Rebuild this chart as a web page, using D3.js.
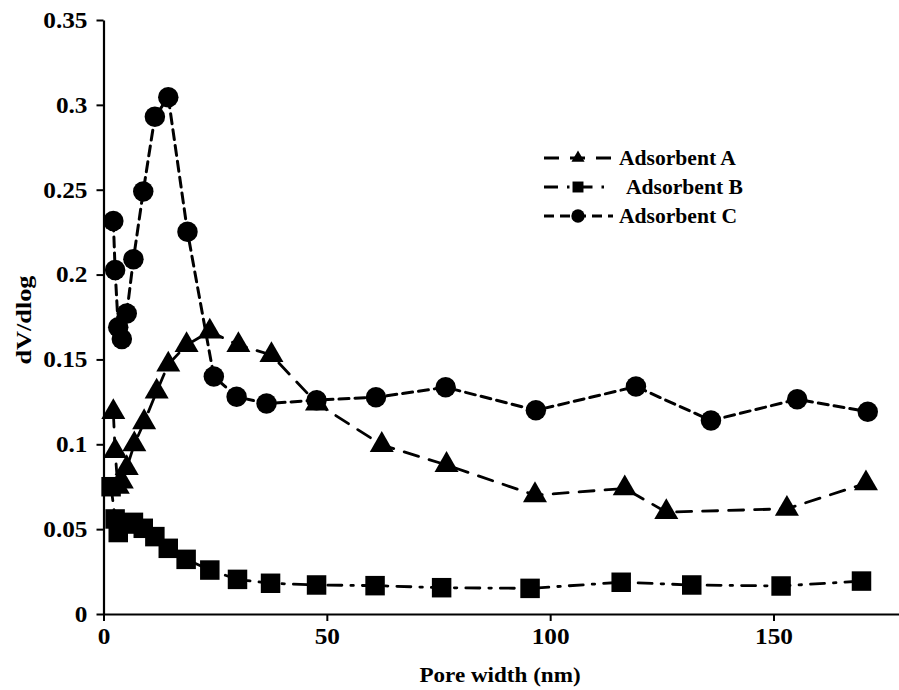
<!DOCTYPE html>
<html>
<head>
<meta charset="utf-8">
<script src="https://cdn.jsdelivr.net/npm/d3@7"></script>
<style>
  html, body { margin: 0; padding: 0; background: #fff; }
  svg text { font-family: "Liberation Serif", "Times New Roman", serif; font-weight: bold; fill: #000; }
</style>
</head>
<body>
<svg id="chart" width="899" height="690"></svg>
<script>
// Pore-size distribution (dV/dlog vs pore width) for three adsorbents
const seriesNames = ["Adsorbent A", "Adsorbent B", "Adsorbent C"];

const widthA = [2.2, 2.6, 3.2, 4.1, 5.2, 6.9, 9.1, 11.9, 14.5, 18.6, 23.8, 30.2, 37.6, 47.8, 62.3, 76.8, 96.6, 116.7, 126.0, 153.0, 170.7];
const dvA    = [0.119, 0.096, 0.075, 0.078, 0.086, 0.100, 0.113, 0.131, 0.147, 0.1585, 0.1664, 0.1585, 0.1526, 0.124, 0.0996, 0.0878, 0.0700, 0.0740, 0.0600, 0.0620, 0.0770];

const widthB = [1.7, 2.6, 3.3, 5.0, 6.7, 8.9, 11.5, 14.5, 18.5, 23.8, 30.0, 37.4, 47.7, 60.8, 75.7, 95.5, 115.9, 131.7, 151.7, 169.7];
const dvB    = [0.075, 0.056, 0.048, 0.053, 0.054, 0.0505, 0.0456, 0.0387, 0.0322, 0.0259, 0.0204, 0.0181, 0.0171, 0.0167, 0.0155, 0.0151, 0.0187, 0.0171, 0.0165, 0.0194];

const widthC = [2.2, 2.6, 3.3, 4.1, 5.2, 6.7, 8.9, 11.5, 14.5, 18.8, 24.7, 29.8, 36.5, 47.7, 61.0, 76.6, 96.8, 119.2, 136.0, 155.3, 171.1];
const dvC    = [0.2316, 0.2027, 0.169, 0.162, 0.177, 0.209, 0.249, 0.293, 0.3045, 0.2253, 0.140, 0.128, 0.124, 0.126, 0.1277, 0.1336, 0.120, 0.134, 0.114, 0.1265, 0.1192];

const xTicks = [0, 50, 100, 150];
const yTicks = [0, 0.05, 0.1, 0.15, 0.2, 0.25, 0.3, 0.35];

const svg = d3.select("#chart");

const x = d3.scaleLinear().domain([0, 180]).range([103.5, 907.5]);
const y = d3.scaleLinear().domain([0, 0.35]).range([614, 20]);

// axes
const xAxis = svg.append("g")
  .attr("transform", `translate(0,${y(0)})`)
  .call(d3.axisBottom(x).tickValues(xTicks).tickFormat(d3.format("d")).tickSize(7).tickSizeOuter(0));
const yAxis = svg.append("g")
  .attr("transform", `translate(${x(0)},0)`)
  .call(d3.axisLeft(y).tickValues(yTicks).tickFormat(d => d === 0 ? "0" : String(+d.toFixed(2))).tickSize(7).tickSizeOuter(0));

const stretch = 1.1; // labels are set slightly wide
[xAxis, yAxis].forEach(g => {
  g.select(".domain").attr("stroke", "#000").attr("stroke-width", 2.2);
  g.selectAll(".tick line").attr("stroke", "#000").attr("stroke-width", 2);
  g.selectAll(".tick text")
    .style("font-family", '"Liberation Serif", "Times New Roman", serif')
    .style("font-weight", "bold")
    .style("font-size", "23px")
    .attr("fill", "#000");
});
xAxis.selectAll(".tick text").attr("dy", "1.05em").attr("y", 6)
  .attr("transform", `scale(${stretch},1)`);
yAxis.selectAll(".tick text").attr("x", -16 / stretch)
  .attr("transform", `scale(${stretch},1)`);

// axis titles
svg.append("text")
  .attr("transform", "translate(500,682) scale(1.1,1)")
  .attr("text-anchor", "middle")
  .style("font-size", "21px")
  .text("Pore width (nm)");
svg.append("text")
  .attr("transform", "translate(31,320) rotate(-90) scale(1.25,1)")
  .attr("text-anchor", "middle")
  .style("font-size", "21px")
  .text("dV/dlog");

const styles = {
  "Adsorbent A": { dash: "15,11", width: 2.8, symbol: d3.symbolTriangle, size: 250, legSize: 75 },
  "Adsorbent B": { dash: "14,9,2.5,9", width: 2.8, symbol: d3.symbolSquare, size: 380, legSize: 120 },
  "Adsorbent C": { dash: "10,6", width: 3, symbol: d3.symbolCircle, size: 330, legSize: 140 }
};

const data = {
  "Adsorbent A": widthA.map((w, i) => [w, dvA[i]]),
  "Adsorbent B": widthB.map((w, i) => [w, dvB[i]]),
  "Adsorbent C": widthC.map((w, i) => [w, dvC[i]])
};

const line = d3.line().x(d => x(d[0])).y(d => y(d[1]));

// C first so triangles sit on top where they overlap
["Adsorbent C", "Adsorbent B", "Adsorbent A"].forEach(name => {
  const s = styles[name];
  const g = svg.append("g");
  g.append("path")
    .datum(data[name])
    .attr("d", line)
    .attr("fill", "none")
    .attr("stroke", "#000")
    .attr("stroke-width", s.width)
    .attr("stroke-dasharray", s.dash)
    .attr("stroke-linecap", "round");
  g.selectAll("path.mark")
    .data(data[name])
    .join("path")
    .attr("class", "mark")
    .attr("transform", d => `translate(${x(d[0])},${y(d[1])})`)
    .attr("d", d3.symbol().type(s.symbol).size(s.size))
    .attr("fill", "#000");
});

// legend
const legend = svg.append("g");
seriesNames.forEach((name, i) => {
  const s = styles[name];
  const ly = 158 + i * 29;
  legend.append("line")
    .attr("x1", 544).attr("x2", 613)
    .attr("y1", ly).attr("y2", ly)
    .attr("stroke", "#000")
    .attr("stroke-width", s.width)
    .attr("stroke-dasharray", s.dash);
  legend.append("path")
    .attr("transform", `translate(578,${ly})`)
    .attr("d", d3.symbol().type(s.symbol).size(s.legSize))
    .attr("fill", "#000");
  legend.append("text")
    .attr("transform", `translate(${i === 1 ? 626 : 619},${ly}) scale(1.08,1)`)
    .attr("dy", "0.35em")
    .style("font-size", "20px")
    .text(name);
});
</script>
</body>
</html>
